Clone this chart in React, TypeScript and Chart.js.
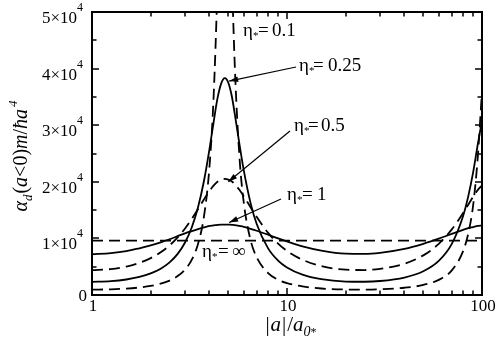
import React, { useEffect, useRef } from 'react';
import { Chart, registerables } from 'chart.js';

Chart.register(...registerables);

// |a|/a0* sample positions
const xValues = [1, 1.25, 1.5, 1.75, 2, 2.25, 2.5, 2.75, 3, 3.25, 3.5, 3.75, 4, 4.2, 4.4, 4.6, 4.8, 5.0, 5.2, 5.4, 5.7, 6, 6.5, 7, 8, 9, 10, 12, 15, 20, 25, 30, 40, 50, 60, 70, 80, 85, 90, 95, 100];

const eta01 = [950, 1000, 1130, 1330, 1610, 2000, 2550, 3340, 4490, 6250, 9070, 13840, 22490, 34700, 54650, 80910, 95330, 81880, 58460, 40370, 24550, 16350, 9740, 6630, 3880, 2710, 2100, 1510, 1150, 970, 950, 1010, 1280, 1780, 2680, 4350, 7750, 10840, 15760, 24090, 36090];
const eta025 = [2330, 2450, 2740, 3190, 3810, 4650, 5770, 7270, 9280, 11970, 15540, 20140, 25700, 30430, 34730, 37400, 38300, 37500, 35290, 31950, 26690, 22050, 16280, 12500, 8240, 6090, 4870, 3600, 2800, 2380, 2340, 2470, 3090, 4200, 6030, 9040, 13970, 17430, 21620, 26470, 30820];
const eta05 = [4390, 4580, 5030, 5680, 6520, 7550, 8770, 10180, 11760, 13470, 15210, 16890, 18360, 19310, 20010, 20400, 20500, 20400, 20090, 19570, 18580, 17440, 15520, 13760, 10980, 9090, 7790, 6230, 5110, 4470, 4410, 4620, 5530, 7000, 9030, 11590, 14500, 15960, 17330, 18530, 19380];
const eta1 = [7200, 7400, 7750, 8250, 8750, 9300, 9850, 10400, 10900, 11300, 11650, 11950, 12200, 12300, 12400, 12450, 12450, 12450, 12400, 12350, 12200, 12050, 11700, 11350, 10650, 10000, 9450, 8600, 7850, 7300, 7250, 7450, 8150, 9050, 9950, 10800, 11500, 11800, 12000, 12200, 12300];
const etaInfX = [1, 100];
const etaInf = [9600, 9600];

const yTickValues = [0, 10000, 20000, 30000, 40000, 50000];
const yTickMantissa = ['0', '1', '2', '3', '4', '5'];
const yMinorValues = [5000, 15000, 25000, 35000, 45000];
const xTickValues = [1, 10, 100];
const xTickLabels = ['1', '10', '100'];

const etaLabels = ['0.1', '0.25', '0.5', '1', '∞'];
// arrow tips for labels 0.25, 0.5, 1 in data coordinates
const arrowTipX = [5.05, 5.0, 5.05];
const arrowTipY = [37800, 20000, 12800];

const SERIF = '"Liberation Serif", "Times New Roman", serif';

type Run = { t: string; font: string; dy?: number; gap?: number };

function runsWidth(ctx: CanvasRenderingContext2D, runs: Run[]) {
  let w = 0;
  for (const r of runs) {
    ctx.font = r.font;
    w += ctx.measureText(r.t).width + (r.gap || 0);
  }
  return w;
}
function drawRuns(ctx: CanvasRenderingContext2D, runs: Run[], x: number, y: number) {
  let cx = x;
  for (const r of runs) {
    ctx.font = r.font;
    ctx.fillText(r.t, cx, y + (r.dy || 0));
    cx += ctx.measureText(r.t).width + (r.gap || 0);
  }
  return cx;
}

function arrow(ctx: CanvasRenderingContext2D, x0: number, y0: number, x1: number, y1: number) {
  ctx.beginPath();
  ctx.lineWidth = 1.2;
  ctx.moveTo(x0, y0);
  ctx.lineTo(x1, y1);
  ctx.stroke();
  const ang = Math.atan2(y1 - y0, x1 - x0);
  const L = 9, W = 2.8;
  const bx = x1 - L * Math.cos(ang), by = y1 - L * Math.sin(ang);
  ctx.beginPath();
  ctx.moveTo(x1, y1);
  ctx.lineTo(bx + W * Math.sin(ang), by - W * Math.cos(ang));
  ctx.lineTo(bx - W * Math.sin(ang), by + W * Math.cos(ang));
  ctx.closePath();
  ctx.fill();
}

const decorPlugin = {
  id: 'decor',
  afterDraw(chart: any) {
    const ctx: CanvasRenderingContext2D = chart.ctx;
    const xs = chart.scales.x, ys = chart.scales.y;
    const left = Math.round(xs.getPixelForValue(1));
    const right = Math.round(xs.getPixelForValue(100));
    const top = Math.round(ys.getPixelForValue(50000));
    const bottom = Math.round(ys.getPixelForValue(0));
    ctx.save();
    ctx.fillStyle = '#000000';
    // frame as filled bars
    ctx.fillRect(left - 1, top - 1, right - left + 2, 2);
    ctx.fillRect(left - 1, bottom - 1, right - left + 2, 2);
    ctx.fillRect(left - 1, top - 1, 2, bottom - top + 2);
    ctx.fillRect(right - 1, top - 1, 2, bottom - top + 2);
    // y ticks
    const yt = [...yTickValues.map((v) => [v, 7]), ...yMinorValues.map((v) => [v, 4.5])];
    for (const [v, len] of yt) {
      const py = Math.round(ys.getPixelForValue(v));
      ctx.fillRect(left, py - 0.75, len, 1.5);
      ctx.fillRect(right - len, py - 0.75, len, 1.5);
    }
    // x ticks (log)
    for (const d of [1, 10]) {
      for (let k = 1; k <= 9; k++) {
        const v = d * k;
        const len = k === 1 ? 7 : 4.5;
        const px = Math.round(xs.getPixelForValue(v));
        ctx.fillRect(px - 0.75, bottom - len, 1.5, len);
        ctx.fillRect(px - 0.75, top, 1.5, len);
      }
    }
    // y tick labels
    ctx.textBaseline = 'alphabetic';
    ctx.textAlign = 'left';
    const big = `17px ${SERIF}`;
    const sup = `12px ${SERIF}`;
    yTickValues.forEach((v, i) => {
      const py = ys.getPixelForValue(v);
      if (yTickMantissa[i] === '0') {
        ctx.font = big;
        const w = ctx.measureText('0').width;
        ctx.fillText('0', 87 - w, py + 6);
      } else {
        const runs: Run[] = [
          { t: yTickMantissa[i] + '×10', font: big },
          { t: '4', font: sup, dy: -12 },
        ];
        const w = runsWidth(ctx, runs);
        drawRuns(ctx, runs, 83 - w, py + 11);
      }
    });
    // x tick labels
    ctx.font = big;
    xTickValues.forEach((v, i) => {
      const px = xs.getPixelForValue(v);
      const w = ctx.measureText(xTickLabels[i]).width;
      ctx.fillText(xTickLabels[i], px - w / 2 + 1, 311);
    });
    // x title
    const f = 21;
    const xr: Run[] = [
      { t: '|', font: `${f}px ${SERIF}`, gap: 1 },
      { t: 'a', font: `italic ${f}px ${SERIF}`, gap: 1 },
      { t: '|', font: `${f}px ${SERIF}`, gap: 1 },
      { t: '/', font: `${f}px ${SERIF}` },
      { t: 'a', font: `italic ${f}px ${SERIF}` },
      { t: '0', font: `italic 14px ${SERIF}`, dy: 5 },
      { t: '*', font: `12px ${SERIF}`, dy: 5 },
    ];
    const xw = runsWidth(ctx, xr);
    drawRuns(ctx, xr, (left + right) / 2 + 4 - xw / 2, 331);
    // y title
    const yr: Run[] = [
      { t: 'α', font: `italic 20px ${SERIF}` },
      { t: 'd', font: `italic 13px ${SERIF}`, dy: 5, gap: 1 },
      { t: '(', font: `20px ${SERIF}` },
      { t: 'a', font: `italic 20px ${SERIF}` },
      { t: '<', font: `20px ${SERIF}` },
      { t: '0', font: `20px ${SERIF}` },
      { t: ')', font: `20px ${SERIF}` },
      { t: 'm', font: `italic 20px ${SERIF}` },
      { t: '/', font: `20px ${SERIF}` },
      { t: 'ħ', font: `italic 20px ${SERIF}` },
      { t: 'a', font: `italic 20px ${SERIF}`, gap: 2 },
      { t: '4', font: `italic 13px ${SERIF}`, dy: -10 },
    ];
    ctx.save();
    ctx.translate(27, 156);
    ctx.rotate(-Math.PI / 2);
    const yw = runsWidth(ctx, yr);
    drawRuns(ctx, yr, -yw / 2, 0);
    ctx.restore();

    // eta annotations
    const pos = [
      [243, 258, 272, 36],
      [299, 313, 328, 71],
      [294, 308, 321, 131],
      [287, 302, 317, 200],
      [202, 218, 232, 257],
    ];
    const af = `19px ${SERIF}`;
    etaLabels.forEach((lab, i) => {
      const [ex, eqx, nx, by] = pos[i];
      ctx.font = af;
      ctx.fillText('η', ex, by);
      const ew = ctx.measureText('η').width;
      ctx.font = `11px ${SERIF}`;
      ctx.fillText('*', ex + ew, by + 3);
      ctx.font = af;
      ctx.fillText('=', eqx, by);
      ctx.fillText(lab, nx, by);
    });
    // arrows
    ctx.strokeStyle = '#000000';
    ctx.setLineDash([]);
    const starts = [[296, 67], [290, 131], [281, 199]];
    starts.forEach(([sx, sy], i) => {
      const tx = xs.getPixelForValue(arrowTipX[i]);
      const ty = ys.getPixelForValue(arrowTipY[i]);
      arrow(ctx, sx, sy, tx, ty);
    });
    ctx.restore();
  },
};

function series(vals: number[]) {
  return xValues.map((x, i) => ({ x, y: vals[i] }));
}

export default function App() {
  const ref = useRef<HTMLCanvasElement | null>(null);
  useEffect(() => {
    if (!ref.current) return;
    const dash = [11, 6];
    const common = {
      pointRadius: 0,
      borderColor: '#000',
      borderWidth: 1.8,
      fill: false,
      cubicInterpolationMode: 'monotone' as const,
    };
    const chart = new Chart(ref.current, {
      type: 'line',
      data: {
        datasets: [
          { ...common, label: 'η*=0.1', data: series(eta01), borderDash: dash },
          { ...common, label: 'η*=0.25', data: series(eta025) },
          { ...common, label: 'η*=0.5', data: series(eta05), borderDash: dash },
          { ...common, label: 'η*=1', data: series(eta1) },
          {
            ...common,
            label: 'η*=∞',
            data: etaInfX.map((x, i) => ({ x, y: etaInf[i] })),
            borderDash: dash,
          },
        ],
      },
      options: {
        responsive: false,
        animation: false,
        layout: { padding: { left: 92, right: 16, top: 12, bottom: 51 } },
        plugins: { legend: { display: false }, tooltip: { enabled: false } },
        scales: {
          x: { type: 'logarithmic', min: 1, max: 100, display: false },
          y: { type: 'linear', min: 0, max: 50000, display: false },
        },
      },
      plugins: [decorPlugin],
    });
    return () => chart.destroy();
  }, []);
  return (
    <div style={{ position: 'absolute', left: 0, top: 0, width: 498, height: 346, background: '#fff' }}>
      <canvas ref={ref} width={498} height={346} style={{ display: 'block' }} />
    </div>
  );
}
